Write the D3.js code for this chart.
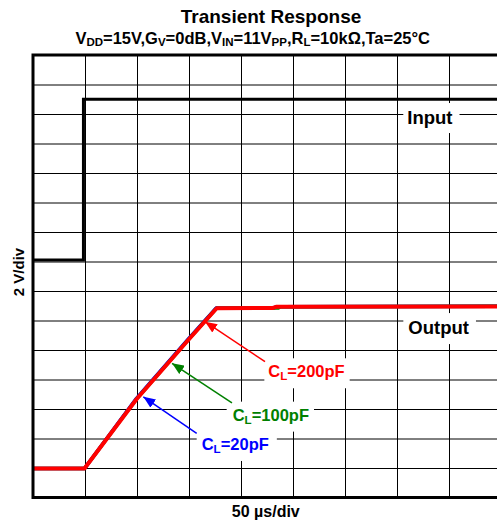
<!DOCTYPE html>
<html>
<head>
<meta charset="utf-8">
<script src="https://cdn.jsdelivr.net/npm/d3@7"></script>
<style>
  html, body { margin: 0; padding: 0; background: #fff; }
  svg { display: block; font-family: "Liberation Sans", Arial, sans-serif; font-weight: bold; }
</style>
</head>
<body>
<script>
// ---- data (time in µs, voltage in V; 50 µs/div, 2 V/div) ----
const timeTicks = [0, 50, 100, 150, 200, 250, 300, 350, 400, 450];
const voltTicks = d3.range(0, 31, 2);

const inputTime = [0, 48.5, 48.5, 450];
const inputVolt = [16.1, 16.1, 27.0, 27.0];

const out20Time = [0, 49.5, 99.5, 149.0, 176.0, 232.0, 234.0, 450];
const out20Volt = [1.97, 1.97, 6.72, 10.72, 12.84, 12.86, 12.94, 12.96];

const out100Time = [0, 49.5, 99.7, 149.2, 176.4, 236.0, 238.0, 450];
const out100Volt = [1.97, 1.97, 6.69, 10.69, 12.83, 12.85, 12.93, 12.97];

const out200Time = [0, 49.5, 99.7, 149.3, 176.6, 230.8, 233.7, 450];
const out200Volt = [1.97, 1.97, 6.68, 10.68, 12.83, 12.85, 12.93, 12.95];

const seriesNames = ["C_L=20pF", "C_L=100pF", "C_L=200pF"];
const seriesColors = ["#0000ff", "#008000", "#ff0000"];

// ---- layout ----
const W = 497, H = 524;
const x = d3.scaleLinear().domain([0, 450]).range([33, 501]);
const y = d3.scaleLinear().domain([0, 30]).range([497.5, 55]);

const svg = d3.select("body").append("svg").attr("width", W).attr("height", H);

// defs: arrow markers
const defs = svg.append("defs");
seriesColors.forEach((c, i) => {
  defs.append("marker")
    .attr("id", "arr" + i)
    .attr("viewBox", "0 0 12 10")
    .attr("refX", 12).attr("refY", 5)
    .attr("markerWidth", 12).attr("markerHeight", 10)
    .attr("markerUnits", "userSpaceOnUse")
    .attr("orient", "auto")
    .append("path").attr("d", "M0,0L12,5L0,10z").attr("fill", c);
});

// ---- grid ----
const grid = svg.append("g");
grid.append("g")
  .attr("transform", `translate(0,${y(0)})`)
  .call(d3.axisBottom(x).tickValues(timeTicks).tickSize(-(y(0) - y(30))).tickFormat(""))
  .call(g => g.select(".domain").remove())
  .call(g => g.selectAll("line").attr("stroke", "#000").attr("stroke-width", 1));
grid.append("g")
  .attr("transform", `translate(${x(0)},0)`)
  .call(d3.axisLeft(y).tickValues(voltTicks).tickSize(-(x(450) - x(0))).tickFormat(""))
  .call(g => g.select(".domain").remove())
  .call(g => g.selectAll("line").attr("stroke", "#000").attr("stroke-width", 1));

// ---- labels with white boxes ----
function subText(sel, parts, main, sub) {
  parts.forEach(p => {
    if (p.s) {
      sel.append("tspan").attr("font-size", sub).attr("dy", main * 0.18).text(p.t);
    } else {
      const t = sel.append("tspan").attr("font-size", main).text(p.t);
      if (sel.node().childNodes.length > 1) t.attr("dy", -main * 0.18);
    }
  });
}
function parseSub(str) {
  // "C_L=200pF" -> [{t:"C"},{t:"L",s:1},{t:"=200pF"}]
  const m = str.split("_");
  if (m.length === 1) return [{ t: str }];
  return [{ t: m[0] }, { t: m[1][0], s: 1 }, { t: m[1].slice(1) }];
}

const boxLayer = svg.append("g");
const lineLayer = svg.append("g");
const textLayer = svg.append("g");

const labels = [
  { txt: "Input", t: 359.9, v: 25.32, color: "#000", size: 18.5, pad: [4, 7, 4, 5] },
  { txt: "Output", t: 360.9, v: 11.08, color: "#000", size: 18.5, pad: [5, 7, 4, 6] },
  { txt: seriesNames[2], t: 226.3, v: 8.15, color: seriesColors[2], size: 16.5, pad: [4, 5, 4, 6] },
  { txt: seriesNames[1], t: 192.0, v: 5.21, color: seriesColors[1], size: 16.5, pad: [6, 5, 4, 6] },
  { txt: seriesNames[0], t: 162.2, v: 3.22, color: seriesColors[0], size: 16.5, pad: [5, 8, 4, 6] }
];
labels.forEach(L => {
  const te = textLayer.append("text")
    .attr("x", x(L.t)).attr("y", y(L.v))
    .attr("fill", L.color);
  subText(te, parseSub(L.txt), L.size, L.size * 0.7);
  const b = te.node().getBBox();
  boxLayer.append("rect")
    .attr("x", b.x - L.pad[0]).attr("y", b.y - L.pad[2])
    .attr("width", b.width + L.pad[0] + L.pad[1])
    .attr("height", b.height + L.pad[2] + L.pad[3])
    .attr("fill", "#fff");
});

// ---- curves ----
const line = d3.line().x(d => x(d[0])).y(d => y(d[1]));
lineLayer.append("path")
  .datum(inputTime.map((t, i) => [t, inputVolt[i]]))
  .attr("d", line).attr("fill", "none").attr("stroke", "#000").attr("stroke-width", 3);

const outs = [[out20Time, out20Volt], [out100Time, out100Volt], [out200Time, out200Volt]];
outs.forEach((o, i) => {
  lineLayer.append("path")
    .datum(o[0].map((t, j) => [t, o[1][j]]))
    .attr("d", line).attr("fill", "none")
    .attr("stroke", seriesColors[i])
    .attr("stroke-width", i === 2 ? 4 : 3.5)
    .attr("stroke-linejoin", "round");
});

// ---- arrows ----
const arrows = [
  { from: [157.4, 4.35], to: [106.1, 6.83], i: 0 },
  { from: [191.3, 6.41], to: [133.7, 9.10], i: 1 },
  { from: [223.1, 9.21], to: [165.4, 11.92], i: 2 }
];
arrows.forEach(a => {
  lineLayer.append("line")
    .attr("x1", x(a.from[0])).attr("y1", y(a.from[1]))
    .attr("x2", x(a.to[0])).attr("y2", y(a.to[1]))
    .attr("stroke", seriesColors[a.i]).attr("stroke-width", 1.5)
    .attr("marker-end", `url(#arr${a.i})`);
});

// ---- frame (left, top, bottom) ----
svg.append("path")
  .attr("d", `M${x(450)},${y(30)}H${x(0)}V${y(0)}H${x(450)}`)
  .attr("fill", "none").attr("stroke", "#000").attr("stroke-width", 3);

// ---- titles ----
svg.append("text").attr("x", 271).attr("y", 23).attr("text-anchor", "middle")
  .attr("font-size", 19).text("Transient Response");

const sub = svg.append("text").attr("x", 252.7).attr("y", 43.5).attr("text-anchor", "middle");
const subParts = [
  { t: "V" }, { t: "DD", s: 1 }, { t: "=15V,G" }, { t: "V", s: 1 }, { t: "=0dB,V" }, { t: "IN", s: 1 },
  { t: "=11V" }, { t: "PP", s: 1 }, { t: ",R" }, { t: "L", s: 1 }, { t: "=10kΩ,Ta=25°C" }
];
subText(sub, subParts, 16.5, 11.5);

svg.append("text")
  .attr("transform", `translate(24,${272}) rotate(-90)`)
  .attr("text-anchor", "middle").attr("font-size", 15).text("2 V/div");

svg.append("text").attr("x", 265.8).attr("y", 517).attr("text-anchor", "middle")
  .attr("font-size", 16).text("50 µs/div");
</script>
</body>
</html>
